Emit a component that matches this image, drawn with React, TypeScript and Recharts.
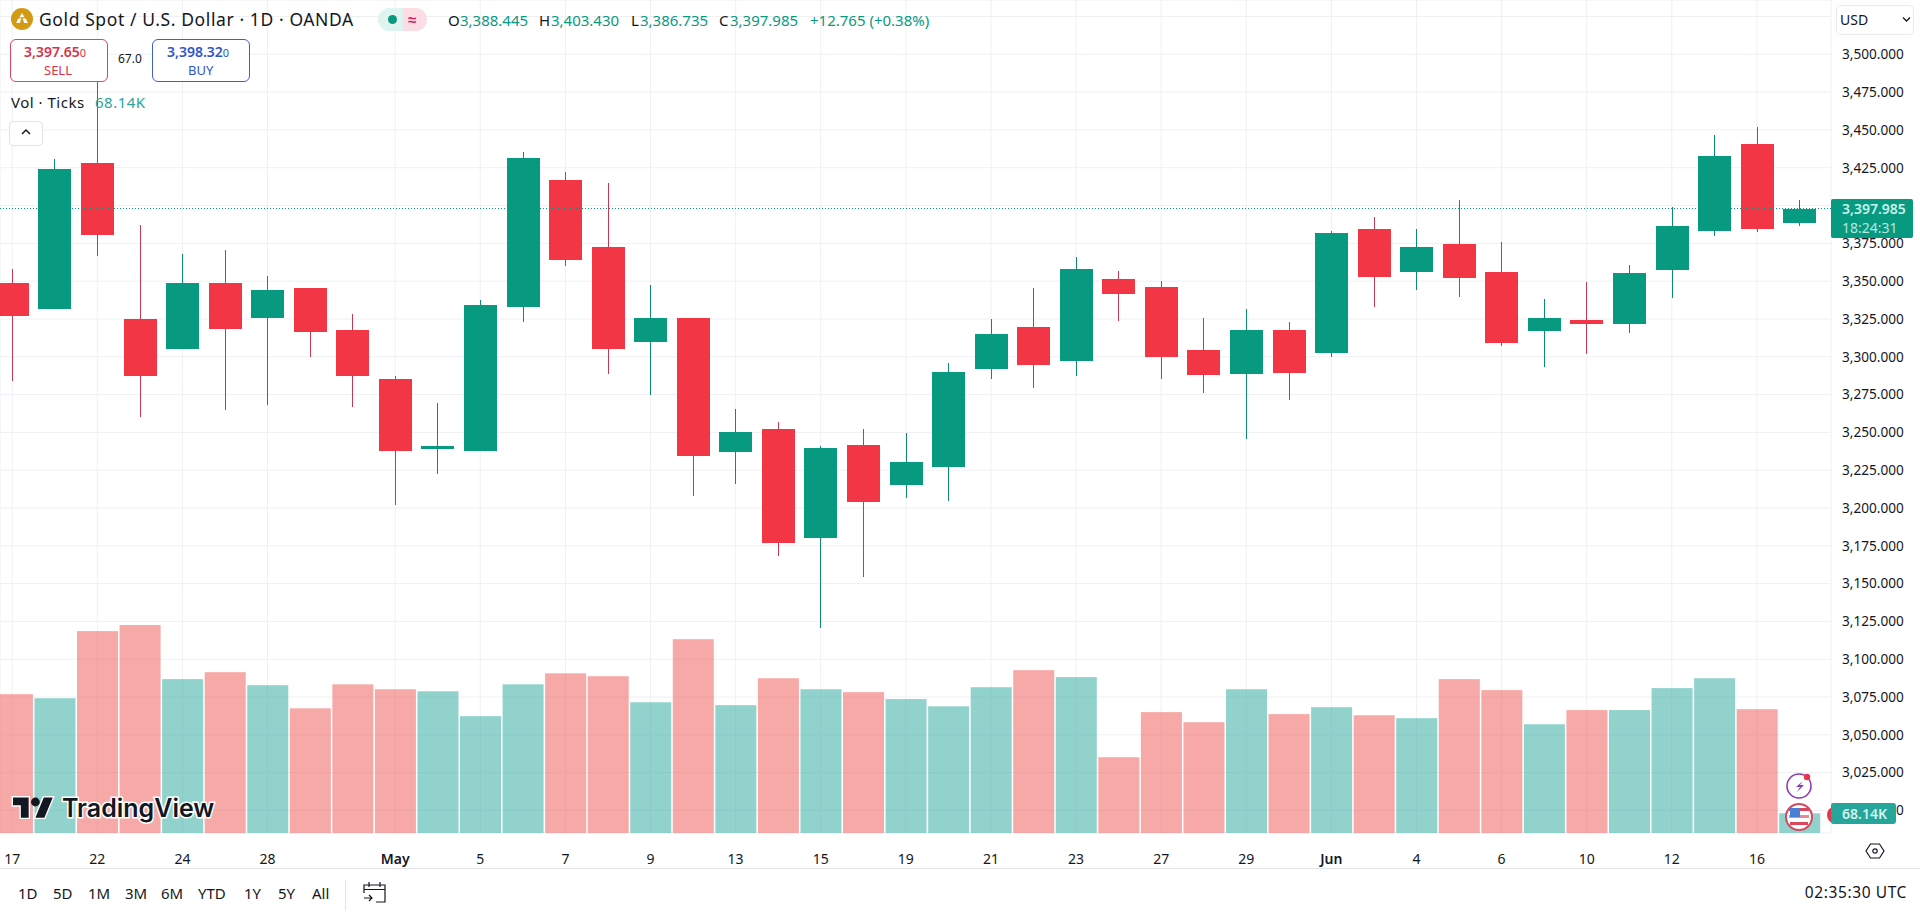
import { ComposedChart, Bar, XAxis, YAxis, CartesianGrid, ReferenceLine } from 'recharts';

const UP = '#089981';
const DOWN = '#F23645';
const UP_WICK = '#0b8a76';
const DOWN_WICK = '#c8384f';
const UP_VOL = 'rgba(38,166,154,0.5)';
const DOWN_VOL = 'rgba(239,83,80,0.5)';
const FONT = '"Noto Sans", sans-serif';

const opens = [
  3348.7, 3331.7, 3428.1, 3324.9, 3305.3, 3348.7, 3325.8, 3345.4, 3317.6, 3285.2, 3238.9,
  3237.8, 3333.1, 3416.9, 3372.5, 3309.9, 3325.6, 3236.9, 3252.1, 3180.2, 3241.5, 3215.3,
  3227.2, 3292.0, 3319.6, 3297.3, 3351.4, 3346.0, 3304.4, 3288.7, 3317.6, 3302.6, 3384.4,
  3356.2, 3374.5, 3356.0, 3317.2, 3324.2, 3321.8, 3357.5, 3383.3, 3440.7, 3388.445,
];
const highs = [
  3358.0, 3430.5, 3490.0, 3387.1, 3367.9, 3370.8, 3353.3, 3345.4, 3328.2, 3287.6, 3269.6,
  3337.5, 3435.4, 3422.2, 3414.9, 3347.4, 3325.6, 3265.3, 3256.8, 3240.9, 3252.1, 3249.5,
  3295.8, 3324.9, 3345.4, 3365.9, 3356.7, 3350.0, 3325.6, 3331.5, 3323.1, 3383.1, 3392.4,
  3384.4, 3403.6, 3375.9, 3338.1, 3349.4, 3360.6, 3399.0, 3446.6, 3451.9, 3403.43,
];
const lows = [
  3283.9, 3331.7, 3366.8, 3260.3, 3305.3, 3264.7, 3268.2, 3300.0, 3266.9, 3201.9, 3222.4,
  3237.8, 3323.2, 3360.2, 3288.5, 3274.6, 3208.0, 3215.8, 3168.3, 3120.7, 3154.5, 3206.7,
  3204.5, 3285.4, 3279.5, 3287.4, 3323.8, 3285.2, 3276.2, 3245.7, 3271.6, 3300.0, 3333.1,
  3344.1, 3339.7, 3307.3, 3293.4, 3301.8, 3315.9, 3338.8, 3380.0, 3382.7, 3386.735,
];
const closes = [
  3327.1, 3424.1, 3380.7, 3287.4, 3348.7, 3318.5, 3344.1, 3316.5, 3287.4, 3237.8, 3240.9,
  3334.2, 3431.4, 3364.2, 3305.3, 3325.6, 3234.5, 3250.2, 3177.0, 3239.6, 3204.1, 3230.3,
  3289.8, 3315.0, 3294.7, 3358.0, 3341.7, 3300.0, 3288.1, 3317.6, 3289.4, 3381.8, 3352.9,
  3372.5, 3352.2, 3309.2, 3325.6, 3321.8, 3355.3, 3386.4, 3432.7, 3384.6, 3397.985,
];
// ticks volume, thousands
const volumes = [
  480, 466, 698, 719, 532, 556, 511, 431, 514, 497, 490,
  404, 514, 552, 542, 452, 670, 442, 535, 497, 487, 463,
  438, 504, 563, 539, 262, 418, 383, 497, 411, 435, 407,
  397, 532, 494, 376, 425, 425, 501, 535, 428, 68.14,
];

// index of candle -> label on the time axis
const timeTicks = [0, 2, 4, 6, 9, 11, 13, 15, 17, 19, 21, 23, 25, 27, 29, 31, 33, 35, 37, 39, 41];
const timeLabels = ['17', '22', '24', '28', 'May', '5', '7', '9', '13', '15', '19', '21', '23', '27', '29', 'Jun', '4', '6', '10', '12', '16'];
const priceTicks = [3000, 3025, 3050, 3075, 3100, 3125, 3150, 3175, 3200, 3225, 3250, 3275, 3300, 3325, 3350, 3375, 3400, 3425, 3450, 3475, 3500, 3525];
const rangeButtons = ['1D', '5D', '1M', '3M', '6M', 'YTD', '1Y', '5Y', 'All'];
const rangeX = [18, 53, 88, 125, 161, 198, 244, 278, 312];

const lastClose = closes[closes.length - 1];

const rows = opens.map((o, i) => ({
  idx: i,
  open: o,
  close: closes[i],
  high: highs[i],
  low: lows[i],
  range: [lows[i], highs[i]],
  volume: volumes[i],
}));

const Candle = (props: any) => {
  const { x, y, width, height, payload } = props;
  const up = payload.close >= payload.open;
  const k = height / (payload.high - payload.low);
  const top = y + (payload.high - Math.max(payload.open, payload.close)) * k;
  const bot = y + (payload.high - Math.min(payload.open, payload.close)) * k;
  const cx = x + width / 2;
  return (
    <g shapeRendering="crispEdges">
      <rect x={cx - 0.5} y={y} width={1} height={height} fill={up ? UP_WICK : DOWN_WICK} />
      <rect x={x} y={top} width={width} height={Math.max(bot - top, 1)} fill={up ? UP : DOWN} />
    </g>
  );
};

const VolumeBar = (props: any) => {
  const { x, y, width, height, payload } = props;
  return <rect x={x} y={y} width={width} height={height} fill={payload.close >= payload.open ? UP_VOL : DOWN_VOL} />;
};

const TimeTick = (props: any) => {
  const { x, y, payload } = props;
  const label = timeLabels[timeTicks.indexOf(payload.value)];
  const month = label === 'May' || label === 'Jun';
  return (
    <text x={x} y={y + 23} textAnchor="middle" fontFamily={FONT} fontSize={14} fontWeight={month ? 600 : 400} fill="#131722">
      {label}
    </text>
  );
};

const Txt = ({ x, y, size = 14, color = '#131722', weight = 400, children, right, spacing }: any) => (
  <span
    style={{
      position: 'absolute',
      left: right === undefined ? x : undefined,
      right,
      top: y,
      transform: 'translateY(-50%)',
      fontFamily: FONT,
      fontSize: size,
      color,
      fontWeight: weight,
      whiteSpace: 'nowrap',
      lineHeight: 1,
      letterSpacing: spacing,
    }}
  >
    {children}
  </span>
);

const Box = ({ x, y, w, h, style }: any) => (
  <div style={{ position: 'absolute', left: x, top: y, width: w, height: h, boxSizing: 'border-box', ...style }} />
);

export default function App() {
  return (
    <div style={{ position: 'absolute', left: 0, top: 0, width: 1920, height: 913, overflow: 'hidden', background: '#fff' }}>
      <ComposedChart width={1920} height={913} data={rows} margin={{ top: 0, right: 0, bottom: 45, left: 0 }}>
        <CartesianGrid xAxisId="t" yAxisId="p" stroke="#eef0f4" strokeWidth={1} />
        <XAxis
          xAxisId="t"
          dataKey="idx"
          type="number"
          domain={[-0.2867, 42.74]}
          allowDataOverflow
          ticks={timeTicks}
          interval={0}
          height={35}
          axisLine={false}
          tickLine={false}
          tick={TimeTick}
        />
        <XAxis xAxisId="v" dataKey="idx" type="number" domain={[-0.2867, 42.74]} allowDataOverflow hide />
        <YAxis
          yAxisId="p"
          orientation="right"
          domain={[2985.1, 3535.9]}
          allowDataOverflow
          ticks={priceTicks}
          interval={0}
          width={89}
          axisLine={false}
          tickLine={false}
          tickSize={0}
          tickMargin={11}
          tick={{ fontFamily: FONT, fontSize: 13.6, fill: '#131722' }}
          tickFormatter={(v: number) => (v === 3525 ? '' : v.toLocaleString('en-US', { minimumFractionDigits: 3 }))}
        />
        <YAxis yAxisId="v" orientation="left" domain={[0, 2880]} allowDataOverflow hide />
        <Bar xAxisId="v" yAxisId="v" dataKey="volume" barSize={41} shape={VolumeBar} isAnimationActive={false} />
        <ReferenceLine xAxisId="t" yAxisId="p" y={lastClose} stroke={UP} strokeDasharray="1 2" shapeRendering="crispEdges" />
        <Bar xAxisId="t" yAxisId="p" dataKey="range" barSize={33} shape={Candle} isAnimationActive={false} />
      </ComposedChart>

      {/* header */}
      <svg style={{ position: 'absolute', left: 11, top: 8 }} width={22} height={22} viewBox="0 0 22 22">
        <circle cx={11} cy={11} r={11} fill="#D39A14" />
        <path d="M11 5l2.6 4.2H8.4zM7.2 10.6h3.2l-1.6 4.4H5.2zM11.6 10.6h3.2l2 4.4h-3.6z" fill="#fff" />
      </svg>
      <Txt x={39} y={20} size={17.5} spacing={0.6}>Gold Spot / U.S. Dollar · 1D · OANDA</Txt>
      <Box x={378} y={8} w={25} h={23} style={{ background: '#dff3ef', borderRadius: '12px 0 0 12px' }} />
      <Box x={403} y={8} w={24} h={23} style={{ background: '#fbdde3', borderRadius: '0 12px 12px 0' }} />
      <Box x={388} y={15} w={9} h={9} style={{ background: UP, borderRadius: '50%' }} />
      <Txt x={408} y={19} size={15} color="#d81b60" weight={700}>≈</Txt>
      <Txt x={448} y={20} size={15}>O</Txt>
      <Txt x={460} y={20} size={15} color={UP}>3,388.445</Txt>
      <Txt x={539} y={20} size={15}>H</Txt>
      <Txt x={551} y={20} size={15} color={UP}>3,403.430</Txt>
      <Txt x={631} y={20} size={15}>L</Txt>
      <Txt x={640} y={20} size={15} color={UP}>3,386.735</Txt>
      <Txt x={719} y={20} size={15}>C</Txt>
      <Txt x={730} y={20} size={15} color={UP}>3,397.985</Txt>
      <Txt x={810} y={20} size={15} color={UP}>+12.765 (+0.38%)</Txt>

      {/* sell / buy */}
      <Box x={10} y={39} w={98} h={43} style={{ background: '#fff', border: '1px solid #d8475c', borderRadius: 6 }} />
      <Txt x={24} y={52} color="#d8334a" weight={600} size={14}>3,397.65<span style={{ fontSize: 11, fontWeight: 400 }}>0</span></Txt>
      <Txt x={44} y={70} color="#d8334a" size={13}>SELL</Txt>
      <Txt x={118} y={59} size={12}>67.0</Txt>
      <Box x={152} y={39} w={98} h={43} style={{ background: '#fff', border: '1px solid #3f5fd0', borderRadius: 6 }} />
      <Txt x={167} y={52} color="#2f55c9" weight={600} size={14}>3,398.32<span style={{ fontSize: 11, fontWeight: 400 }}>0</span></Txt>
      <Txt x={188} y={70} color="#2f55c9" size={13}>BUY</Txt>

      <Txt x={11} y={102} size={15} spacing={0.5}>Vol · Ticks</Txt>
      <Txt x={95} y={102} size={15} spacing={0.5} color="#26A69A">68.14K</Txt>
      <Box x={9} y={121} w={34} h={25} style={{ background: '#fff', border: '1px solid #e0e3eb', borderRadius: 4 }} />
      <svg style={{ position: 'absolute', left: 20, top: 127 }} width={12} height={10} viewBox="0 0 12 10">
        <path d="M2 7l4-4 4 4" fill="none" stroke="#131722" strokeWidth={1.5} />
      </svg>

      {/* price scale overlays */}
      <Box x={1836} y={5} w={78} h={30} style={{ background: '#fff', border: '1px solid #e9ebf0', borderRadius: 5 }} />
      <Txt x={1840} y={20} size={14}>USD</Txt>
      <svg style={{ position: 'absolute', left: 1902, top: 16 }} width={9} height={7} viewBox="0 0 9 7">
        <path d="M1 1.5l3.5 3.5L8 1.5" fill="none" stroke="#131722" strokeWidth={1.3} />
      </svg>
      <Box x={1831} y={199} w={82} h={39} style={{ background: UP, borderRadius: '2px' }} />
      <Txt x={1842} y={209} size={14} color="#c8f2e9" weight={600}>3,397.985</Txt>
      <Txt x={1842} y={228} size={14} color="#b8e8dd">18:24:31</Txt>

      {/* bottom right markers */}
      <svg style={{ position: 'absolute', left: 1785, top: 770 }} width={30} height={64} viewBox="0 0 30 64">
        <circle cx={14} cy={16} r={12} fill="#fff" stroke="#8e3bb5" strokeWidth={1.6} />
        <path d="M18 11l-7 6h4l-3 5 7-7h-4z" fill="#8e3bb5" />
        <circle cx={22} cy={7} r={3.2} fill="#e8374a" />
        <circle cx={14} cy={47} r={13} fill="#fff" stroke="#d8475c" strokeWidth={2} />
        <rect x={4} y={38} width={20} height={3} fill="#d8475c" />
        <rect x={4} y={45} width={20} height={3} fill="#e58a94" />
        <rect x={5} y={52} width={18} height={3} fill="#d8475c" />
        <rect x={5} y={38} width={10} height={9} fill="#4a7fd6" />
      </svg>
      <Box x={1827} y={807} w={14} h={16} style={{ background: '#e8374a', borderRadius: '50%' }} />
      <Box x={1831} y={803} w={65} h={21} style={{ background: '#26A69A', borderRadius: '2px 3px 3px 2px' }} />
      <Txt x={1842} y={814} size={14} color="#d4f3ee" weight={600}>68.14K</Txt>

      {/* watermark */}
      <svg style={{ position: 'absolute', left: 10, top: 792 }} width={210} height={36} viewBox="0 0 210 36">
        <path
          transform="translate(3 1) scale(1.12)"
          d="M14 22H7V11H0V4h14v18zM28 22h-8l7.5-18h8L28 22z"
          fill="#131722"
          stroke="#fff"
          strokeWidth={2.5}
          paintOrder="stroke"
        />
        <circle cx={25.4} cy={10} r={4.4} fill="#131722" />
        <text x={52} y={25} fontFamily="Inter, sans-serif" fontWeight={600} fontSize={25} fill="#131722" stroke="#fff" strokeWidth={3} paintOrder="stroke">
          TradingView
        </text>
      </svg>

      {/* settings hexagon */}
      <svg style={{ position: 'absolute', left: 1865, top: 841 }} width={20} height={20} viewBox="0 0 20 20">
        <path d="M5.5 3h9l4.5 7-4.5 7h-9L1 10z" fill="none" stroke="#131722" strokeWidth={1.2} />
        <circle cx={10} cy={10} r={2.2} fill="none" stroke="#131722" strokeWidth={1.2} />
      </svg>

      {/* bottom toolbar */}
      <Box x={0} y={868} w={1920} h={1} style={{ background: '#e0e3eb' }} />
      {rangeButtons.map((b, i) => (
        <Txt key={b} x={rangeX[i]} y={893} size={15}>{b}</Txt>
      ))}
      <Box x={345} y={880} w={1} h={30} style={{ background: '#e0e3eb' }} />
      <svg style={{ position: 'absolute', left: 362, top: 880 }} width={25} height={24} viewBox="0 0 25 24">
        <path d="M2 13V5h21v17h-9M2 9.5h21M7 2v5M18 2v5M2 18h8M7 15l3 3-3 3" fill="none" stroke="#131722" strokeWidth={1.2} />
      </svg>
      <Txt right={13} y={893} size={15.5} spacing={0.6}>02:35:30 UTC</Txt>
    </div>
  );
}
